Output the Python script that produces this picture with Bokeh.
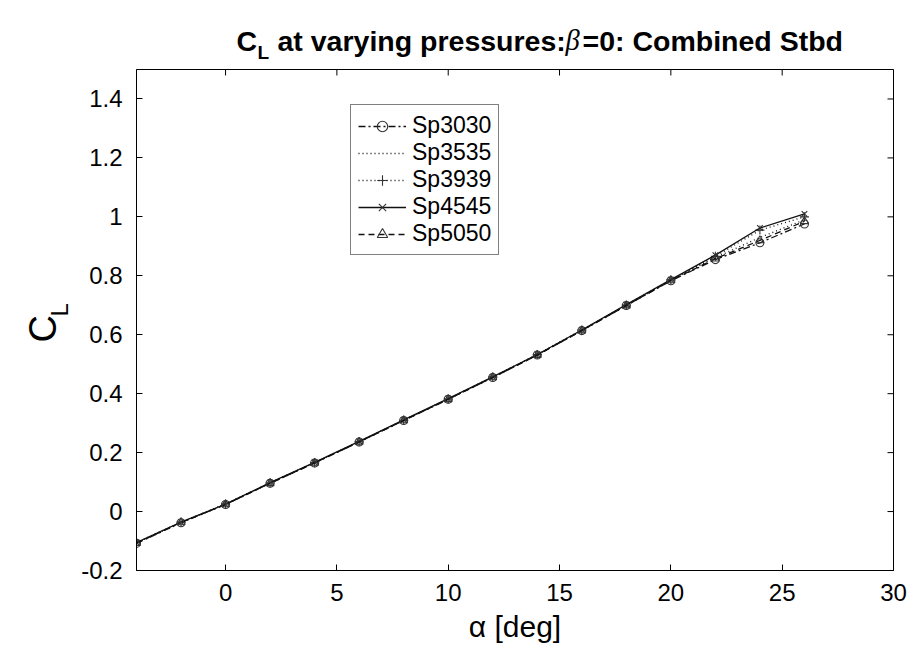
import math
from bokeh.plotting import figure
from bokeh.layouts import column, row
from bokeh.models import (Range1d, FixedTicker, CustomJSTickFormatter,
                          Legend, LegendItem, Label)
from bokeh.embed import file_html
from bokeh.resources import INLINE

# ---- data ----
alpha = [-4, -2, 0, 2, 4, 6, 8, 10, 12, 14, 16, 18, 20, 22, 24, 26]
sp3030 = [-0.108, -0.038, 0.024, 0.096, 0.165, 0.236, 0.309, 0.381, 0.455, 0.531, 0.614, 0.699, 0.783, 0.855, 0.912, 0.976]
sp3535 = [-0.106, -0.037, 0.025, 0.097, 0.166, 0.237, 0.310, 0.382, 0.456, 0.532, 0.615, 0.700, 0.785, 0.862, 0.930, 0.990]
sp3939 = [-0.105, -0.036, 0.026, 0.097, 0.166, 0.237, 0.310, 0.382, 0.457, 0.533, 0.616, 0.701, 0.786, 0.866, 0.955, 1.000]
sp4545 = [-0.105, -0.036, 0.025, 0.098, 0.167, 0.238, 0.311, 0.383, 0.457, 0.533, 0.616, 0.702, 0.787, 0.870, 0.962, 1.010]
sp5050 = [-0.107, -0.037, 0.024, 0.096, 0.165, 0.236, 0.309, 0.381, 0.455, 0.531, 0.614, 0.699, 0.784, 0.858, 0.920, 0.985]
series_names = ["Sp3030", "Sp3535", "Sp3939", "Sp4545", "Sp5050"]
x_ticks = [0, 5, 10, 15, 20, 25, 30]
y_ticks = [-0.2, 0, 0.2, 0.4, 0.6, 0.8, 1, 1.2, 1.4]
x_lim = (-4, 30)
y_lim = (-0.2, 1.5)

FONT = "Liberation Sans"
W, H = 913, 653
TITLE_H = 64
YL_W = 78
MAIN_W = W - YL_W
MAIN_H = H - TITLE_H
BL, BR, BT, BB = 136 - YL_W, 20, 5, 83
FRAME_L = YL_W + BL            # 136 (page px)
FRAME_B = TITLE_H + MAIN_H - BB  # 570 (page px)


def blank_fig(w, h):
    f = figure(width=w, height=h, x_range=Range1d(0, w), y_range=Range1d(0, h),
               output_backend="svg", toolbar_location=None, min_border=0,
               x_axis_location=None, y_axis_location=None)
    f.xgrid.visible = False
    f.ygrid.visible = False
    f.outline_line_color = None
    f.background_fill_color = "white"
    f.border_fill_color = "white"
    return f


def lab(f, x, y, text, size, style="normal", font=FONT, angle=0.0):
    f.add_layout(Label(x=x, y=y, x_units="screen", y_units="screen", text=text,
                       text_font=font, text_font_size=size, text_font_style=style,
                       text_color="black", text_align="left", text_baseline="alphabetic",
                       angle=angle))


# ---- title strip ----
tf = blank_fig(W, TITLE_H)
ty = TITLE_H - 40
lab(tf, 236, ty, "C", "28.5px", "bold")
lab(tf, 257, TITLE_H - 52, "L", "19px", "bold")
lab(tf, 277, ty, "at varying pressures:", "28.5px", "bold")
lab(tf, 565, ty, "β", "28.5px", "italic", font="Liberation Serif")
lab(tf, 582, ty, "=0: Combined Stbd", "28.5px", "bold")

# ---- y label strip (C_L rotated); its frame is aligned with the main frame ----
yf = blank_fig(YL_W, MAIN_H)
lab(yf, 42, FRAME_B - 342, "C", "38px", "normal", angle=math.pi / 2)
lab(yf, 59, FRAME_B - 316, "L", "24px", "normal", angle=math.pi / 2)

# ---- main plot ----
p = figure(width=MAIN_W, height=MAIN_H, x_range=Range1d(*x_lim), y_range=Range1d(*y_lim),
           output_backend="svg", toolbar_location=None,
           min_border_left=BL, min_border_right=BR, min_border_top=BT, min_border_bottom=BB)
p.xgrid.visible = False
p.ygrid.visible = False
p.outline_line_color = "black"
p.outline_line_width = 1
p.background_fill_color = "white"
p.border_fill_color = "white"

fmt = CustomJSTickFormatter(code="return tick.toString();")
for ax in [p.xaxis[0], p.yaxis[0]]:
    ax.major_tick_in = 6
    ax.major_tick_out = 0
    ax.minor_tick_in = 0
    ax.minor_tick_out = 0
    ax.axis_line_color = "black"
    ax.major_tick_line_color = "black"
    ax.major_label_text_font = FONT
    ax.major_label_text_font_size = "24px"
    ax.major_label_text_color = "black"
    ax.formatter = fmt
p.xaxis[0].ticker = FixedTicker(ticks=x_ticks)
p.yaxis[0].ticker = FixedTicker(ticks=y_ticks)
p.xaxis[0].major_label_standoff = 13
p.yaxis[0].major_label_standoff = 14
p.xaxis[0].axis_label = "α [deg]"
p.xaxis[0].axis_label_text_font = FONT
p.xaxis[0].axis_label_text_font_size = "30px"
p.xaxis[0].axis_label_text_font_style = "normal"
p.xaxis[0].axis_label_text_color = "black"
p.xaxis[0].axis_label_standoff = 6

# inward ticks on the top and right edges of the box (screen-sized dashes, half clipped)
p.scatter(x_ticks, [y_lim[1]] * len(x_ticks), marker="dash", angle=math.pi / 2,
          size=12, line_color="black", line_width=1)
p.scatter([x_lim[1]] * len(y_ticks), y_ticks, marker="dash", angle=0,
          size=12, line_color="black", line_width=1)

LC = "#111111"
MC = "#333333"
styles = [
    dict(data=sp3030, dash="7 3 2 3", marker="circle", msize=8),
    dict(data=sp3535, dash="1 3", marker=None, msize=0),
    dict(data=sp3939, dash="1 3", marker="cross", msize=9),
    dict(data=sp4545, dash="solid", marker="x", msize=8),
    dict(data=sp5050, dash="6 4", marker="triangle", msize=8),
]
items = []
for name, st in zip(series_names, styles):
    rs = []
    lr = p.line(alpha, st["data"], line_color=LC, line_width=1.3, line_dash=st["dash"])
    rs.append(lr)
    if st["marker"]:
        sr = p.scatter(alpha, st["data"], marker=st["marker"], size=st["msize"],
                       line_color=MC, fill_color=None, line_width=1.1)
        rs.append(sr)
    items.append(LegendItem(label=name, renderers=rs))

legend = Legend(items=items, location=(350 - FRAME_L, FRAME_B - 255), border_line_color="black",
                border_line_width=1, background_fill_color="white", background_fill_alpha=1,
                label_text_font=FONT, label_text_font_size="23px", label_text_color="black",
                glyph_width=48, glyph_height=26, label_height=26, spacing=0,
                padding=7, margin=0, label_standoff=6)
p.add_layout(legend, "center")

layout = column(tf, row(yf, p, spacing=0), spacing=0)
open("out.html", "w").write(file_html(layout, INLINE))
